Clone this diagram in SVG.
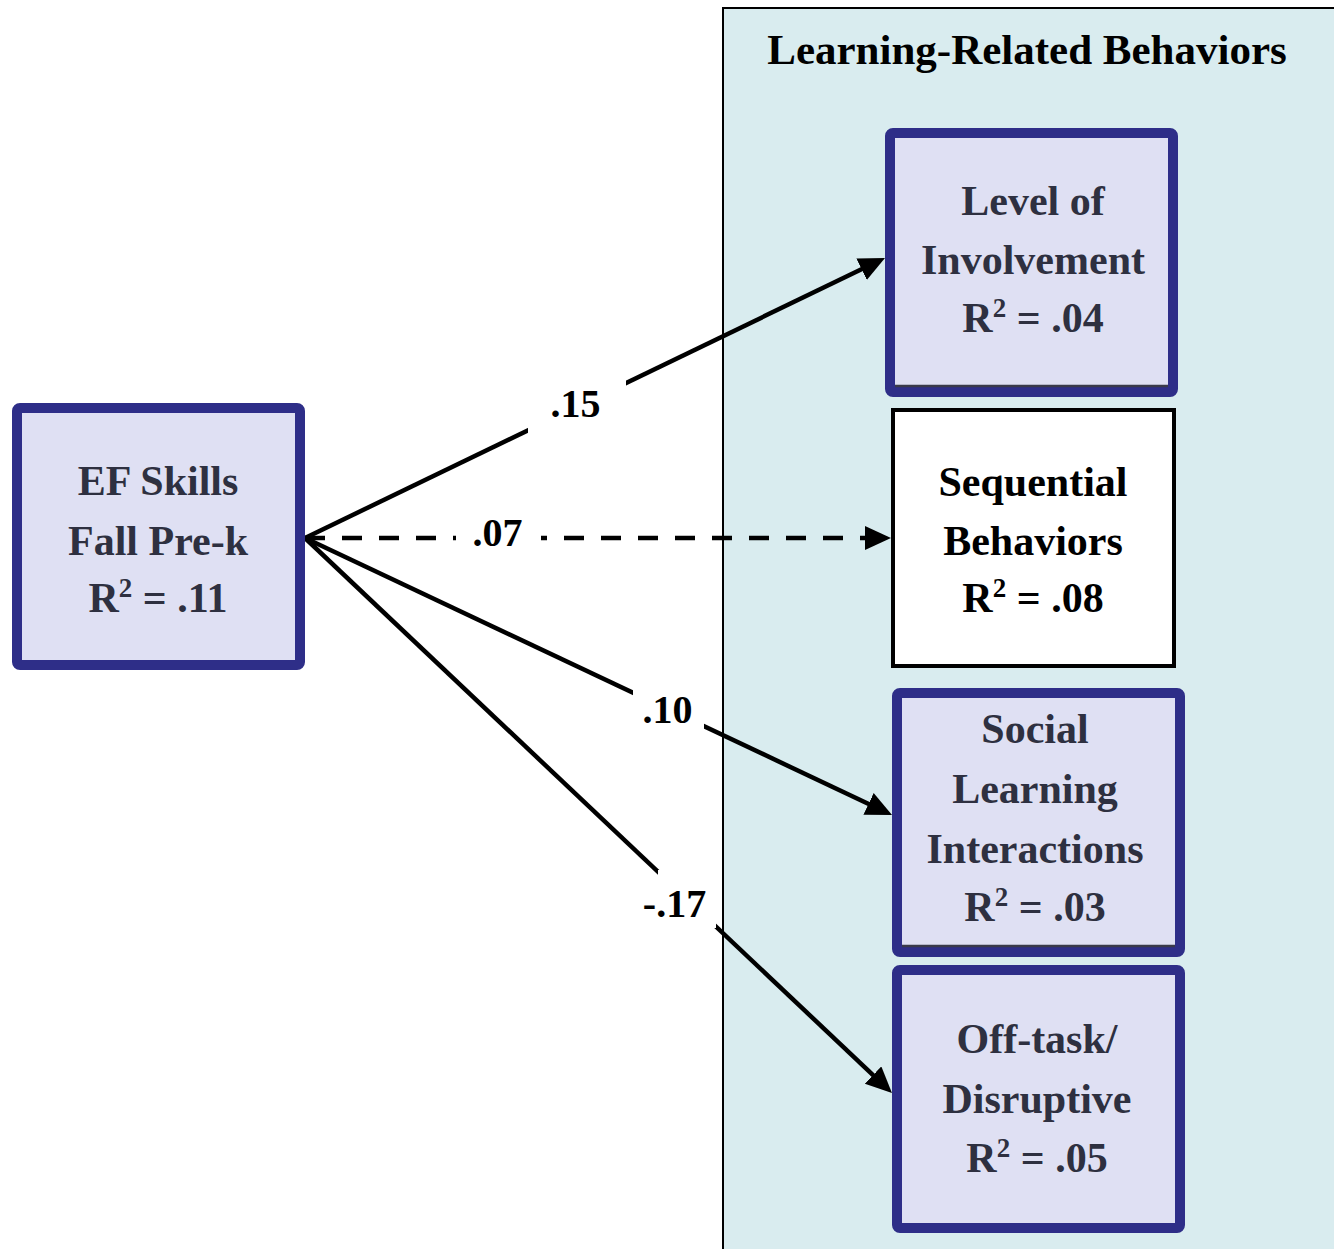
<svg xmlns="http://www.w3.org/2000/svg" width="1334" height="1249" viewBox="0 0 1334 1249">
  <style>
    .box { fill: #dfe0f3; stroke: #2e2e88; stroke-width: 10; }
    .plain { fill: #ffffff; stroke: #000000; stroke-width: 4; }
    .shade { stroke: #3a3a4a; stroke-width: 2.5; fill: none; }
    .node-text { font-family: "Liberation Serif", "Times New Roman", serif; font-weight: bold; font-size: 42px; fill: #2e3040; text-anchor: middle; }
    .dark { fill: #000000; }
    .title { font-family: "Liberation Serif", "Times New Roman", serif; font-weight: bold; font-size: 43px; fill: #000000; text-anchor: middle; }
    .coef { font-family: "Liberation Serif", "Times New Roman", serif; font-weight: bold; font-size: 40px; fill: #000000; text-anchor: middle; }
    .path { stroke: #000000; stroke-width: 4.5; fill: none; marker-end: url(#arrow); }
    .dashed { stroke-dasharray: 20 17; }
    .gap { fill: #ffffff; }
  </style>
  <defs>
    <marker id="arrow" markerUnits="userSpaceOnUse" markerWidth="28" markerHeight="26" refX="16" refY="12" orient="auto">
      <path d="M0,0 L26,12 L0,24 Z" fill="#000000"/>
    </marker>
  </defs>

  <rect width="1334" height="1249" fill="#ffffff"/>

  <!-- Learning-related behaviors panel -->
  <g id="panel">
    <rect x="723" y="8" width="640" height="1260" fill="#d9ecef" stroke="#000000" stroke-width="2"/>
    <text class="title" x="1027" y="64">Learning-Related Behaviors</text>
  </g>

  <!-- Paths from EF skills to each behavior -->
  <g id="connectors">
    <line class="path" x1="305" y1="538" x2="876" y2="262.3"/>
    <line class="path dashed" x1="305" y1="538" x2="881" y2="538"/>
    <line class="path" x1="305" y1="538" x2="883" y2="810.7"/>
    <line class="path" x1="305" y1="538" x2="884.7" y2="1086.1"/>

    <!-- coefficient labels with knock-out backgrounds -->
    <rect class="gap" x="528" y="378" width="98" height="56"/>
    <text class="coef" x="575.5" y="417">.15</text>
    <rect class="gap" x="456" y="512" width="85" height="44"/>
    <text class="coef" x="497.5" y="546">.07</text>
    <rect class="gap" x="633" y="686" width="71" height="48"/>
    <text class="coef" x="667.5" y="723">.10</text>
    <rect class="gap" x="658" y="870" width="58" height="58"/>
    <text class="coef" x="674.5" y="917">-.17</text>
  </g>

  <g id="ef-skills">
    <rect class="box" x="17" y="408" width="283" height="257" rx="3"/>
    <text class="node-text" x="158" y="495">EF Skills</text>
    <text class="node-text" x="158" y="555">Fall Pre-k</text>
    <text class="node-text" x="158" y="612">R<tspan font-size="27" dy="-15">2</tspan><tspan dy="15"> = .11</tspan></text>
  </g>

  <g id="level-of-involvement">
    <rect class="box" x="890" y="133" width="283" height="259" rx="3"/>
    <line class="shade" x1="895" y1="386" x2="1168" y2="386"/>
    <text class="node-text" x="1033" y="215">Level of</text>
    <text class="node-text" x="1033" y="274">Involvement</text>
    <text class="node-text" x="1033" y="332">R<tspan font-size="27" dy="-15">2</tspan><tspan dy="15"> = .04</tspan></text>
  </g>

  <g id="sequential-behaviors">
    <rect class="plain" x="893" y="410" width="281" height="256"/>
    <text class="node-text dark" x="1033" y="496">Sequential</text>
    <text class="node-text dark" x="1033" y="555">Behaviors</text>
    <text class="node-text dark" x="1033" y="612">R<tspan font-size="27" dy="-15">2</tspan><tspan dy="15"> = .08</tspan></text>
  </g>

  <g id="social-learning-interactions">
    <rect class="box" x="897" y="693" width="283" height="259" rx="3"/>
    <line class="shade" x1="902" y1="946" x2="1175" y2="946"/>
    <text class="node-text" x="1035" y="743">Social</text>
    <text class="node-text" x="1035" y="803">Learning</text>
    <text class="node-text" x="1035" y="863">Interactions</text>
    <text class="node-text" x="1035" y="921">R<tspan font-size="27" dy="-15">2</tspan><tspan dy="15"> = .03</tspan></text>
  </g>

  <g id="off-task-disruptive">
    <rect class="box" x="897" y="970" width="283" height="258" rx="3"/>
    <text class="node-text" x="1037" y="1053">Off-task/</text>
    <text class="node-text" x="1037" y="1113">Disruptive</text>
    <text class="node-text" x="1037" y="1172">R<tspan font-size="27" dy="-15">2</tspan><tspan dy="15"> = .05</tspan></text>
  </g>
</svg>
